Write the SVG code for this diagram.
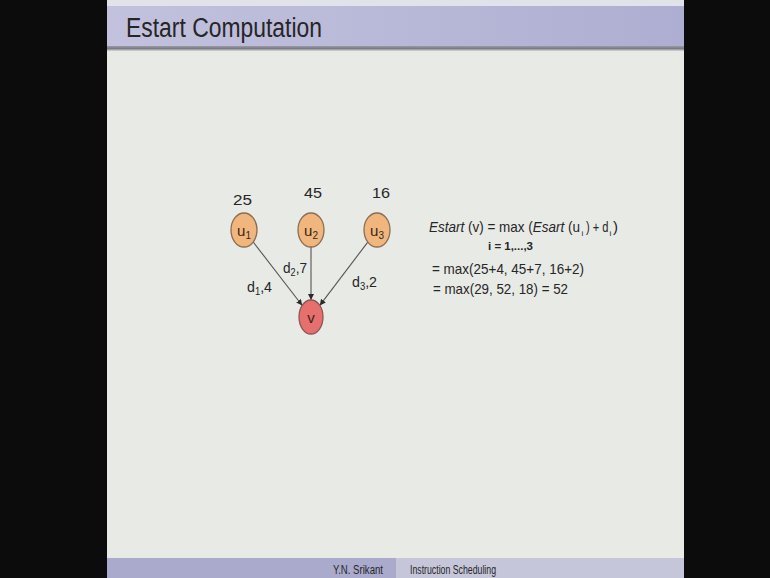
<svg xmlns="http://www.w3.org/2000/svg" width="770" height="578" viewBox="0 0 770 578">
<defs>
<linearGradient id="tb" x1="0" y1="0" x2="1" y2="0">
<stop offset="0" stop-color="#c2c2de"/>
<stop offset="1" stop-color="#aeaed2"/>
</linearGradient>
<linearGradient id="sep" x1="0" y1="0" x2="0" y2="1">
<stop offset="0" stop-color="#9a9aa8"/>
<stop offset="0.5" stop-color="#7c7c88"/>
<stop offset="1" stop-color="#d8dad6"/>
</linearGradient>
<marker id="ah" viewBox="0 0 10 10" refX="10" refY="5" markerWidth="6" markerHeight="6" markerUnits="userSpaceOnUse" orient="auto">
<path d="M0,0 L10,5 L0,10 z" fill="#2a2a2a"/>
</marker>
</defs>
<style>
.u{fill:#f0b67e;stroke:#8c6c52;stroke-width:1.3}
.v{fill:#e6706e;stroke:#8c5654;stroke-width:1.3}
.t{font-family:"Liberation Sans",Arial,sans-serif;fill:#262626}
.nl{font-family:"Liberation Sans",Arial,sans-serif;font-size:15px;fill:#3a2614;text-anchor:middle}
.e{stroke:#555;stroke-width:1.1;fill:none;marker-end:url(#ah)}
</style>
<rect x="0" y="0" width="770" height="578" fill="#0c0c0c"/>
<rect x="107" y="0" width="577" height="578" fill="#e8eae6"/>
<rect x="107" y="0" width="577" height="6" fill="#e2e2ea"/>
<rect x="107" y="6" width="577" height="41" fill="url(#tb)"/>
<rect x="107" y="46" width="577" height="5" fill="url(#sep)"/>
<text class="t" x="126" y="37" font-size="27" textLength="196" lengthAdjust="spacingAndGlyphs" fill="#1c1c2c">Estart Computation</text>
<rect x="107" y="558" width="289" height="20" fill="#aaaacc"/>
<rect x="396" y="558" width="288" height="20" fill="#c6c6da"/>
<text class="t" x="333" y="574" font-size="12" textLength="50" lengthAdjust="spacingAndGlyphs" fill="#2a2a3a">Y.N. Srikant</text>
<text class="t" x="410" y="574" font-size="12" textLength="86" lengthAdjust="spacingAndGlyphs" fill="#2a2a3a">Instruction Scheduling</text>
<g id="connectors">
<line class="e" x1="253.2" y1="242" x2="302.2" y2="305.5"/>
<line class="e" x1="311" y1="247" x2="311" y2="300"/>
<line class="e" x1="367.8" y1="242.1" x2="319.8" y2="305.4"/>
<text class="t" x="247" y="292" font-size="15" textLength="25" lengthAdjust="spacingAndGlyphs">d<tspan font-size="10" dy="3">1</tspan><tspan dy="-3">,4</tspan></text>
<text class="t" x="283" y="273" font-size="15" textLength="24" lengthAdjust="spacingAndGlyphs">d<tspan font-size="10" dy="3">2</tspan><tspan dy="-3">,7</tspan></text>
<text class="t" x="352" y="287" font-size="15" textLength="25" lengthAdjust="spacingAndGlyphs">d<tspan font-size="10" dy="3">3</tspan><tspan dy="-3">,2</tspan></text>
</g>
<g id="u1">
<ellipse class="u" cx="244" cy="230" rx="13" ry="17"/>
<text class="nl" x="244" y="236">u<tspan font-size="10" dy="3">1</tspan></text>
<text class="t" x="233" y="205" font-size="15" textLength="19" lengthAdjust="spacingAndGlyphs">25</text>
</g>
<g id="u2">
<ellipse class="u" cx="311" cy="230" rx="13" ry="17"/>
<text class="nl" x="311" y="236">u<tspan font-size="10" dy="3">2</tspan></text>
<text class="t" x="304" y="198" font-size="15" textLength="18" lengthAdjust="spacingAndGlyphs">45</text>
</g>
<g id="u3">
<ellipse class="u" cx="377" cy="230" rx="13" ry="17"/>
<text class="nl" x="377" y="236">u<tspan font-size="10" dy="3">3</tspan></text>
<text class="t" x="372" y="198" font-size="15" textLength="18" lengthAdjust="spacingAndGlyphs">16</text>
</g>
<g id="v">
<ellipse class="v" cx="311" cy="317" rx="12" ry="17"/>
<text class="nl" x="311" y="323" fill="#3a1a1a">v</text>
</g>
<g id="formula">
<text class="t" x="429" y="232" font-size="15" textLength="151" lengthAdjust="spacingAndGlyphs"><tspan font-style="italic">Estart</tspan> (v) = max (<tspan font-style="italic">Esart</tspan> (u</text>
<text class="t" x="581.5" y="236" font-size="8">i</text>
<text class="t" x="586" y="232" font-size="15" textLength="22.5" lengthAdjust="spacingAndGlyphs">) + d</text>
<text class="t" x="609.5" y="236" font-size="8">i</text>
<text class="t" x="613" y="232" font-size="15">)</text>
<text class="t" x="488" y="250" font-size="10" font-weight="bold" textLength="45" lengthAdjust="spacingAndGlyphs">i = 1,...,3</text>
<text class="t" x="432" y="274" font-size="15" textLength="152" lengthAdjust="spacingAndGlyphs">= max(25+4, 45+7, 16+2)</text>
<text class="t" x="433" y="294" font-size="15" textLength="135" lengthAdjust="spacingAndGlyphs">= max(29, 52, 18) = 52</text>
</g>
</svg>
